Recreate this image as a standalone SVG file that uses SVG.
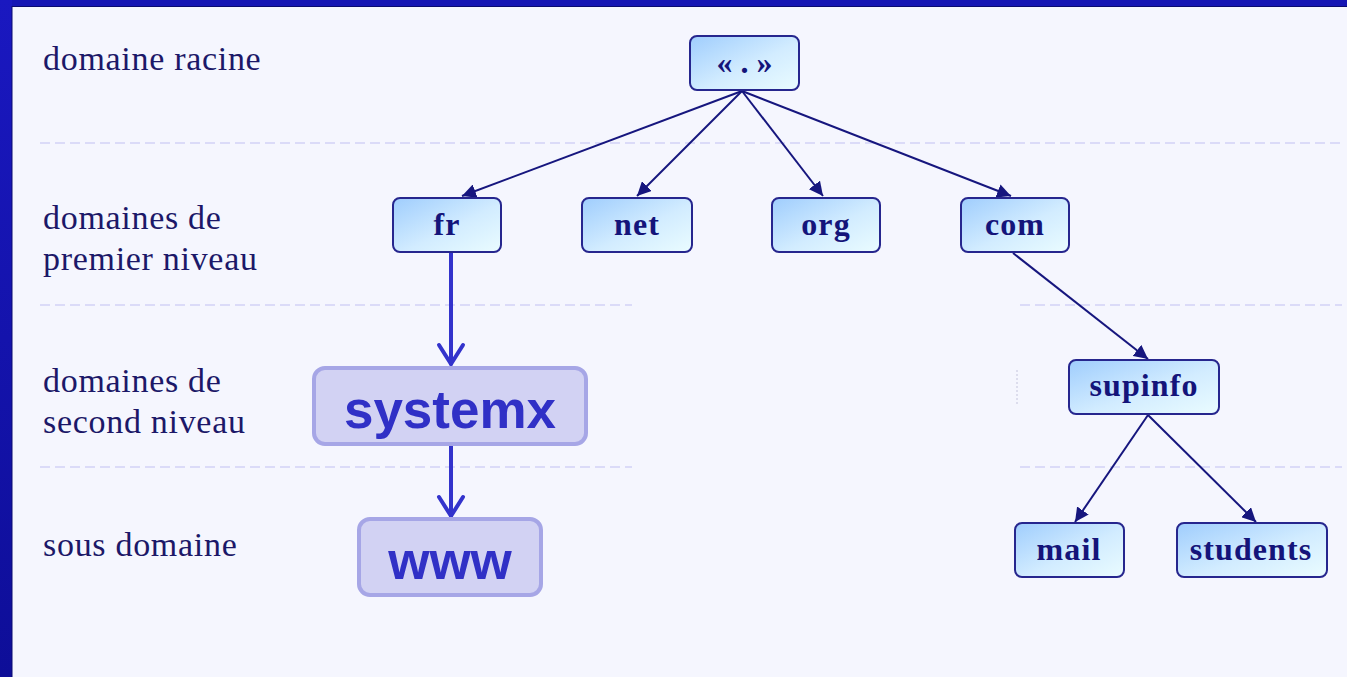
<svg xmlns="http://www.w3.org/2000/svg" width="1347" height="677" viewBox="0 0 1347 677">
<style>
.lbl{font-family:"Liberation Serif","Times New Roman",serif;font-size:34px;fill:#1c1868;letter-spacing:0.7px}
.ntx{font-family:"Liberation Serif","Times New Roman",serif;font-size:32px;font-weight:bold;fill:#14147a;text-anchor:middle;letter-spacing:1.1px}
.node{fill:url(#ng);stroke:#26268e;stroke-width:2}
.sep{stroke:#d2d2f6;stroke-width:1.5;stroke-dasharray:10 5;fill:none}
.conn{stroke:#16167e;stroke-width:2;fill:none}
.hl{fill:#d2d2f3;stroke:#a6a6e6;stroke-width:4}
.htx{font-family:"Liberation Sans",Arial,sans-serif;font-size:53px;font-weight:bold;fill:#3030c6;text-anchor:middle}
.blue{stroke:#3333cc;stroke-width:4;fill:none;stroke-linecap:round;stroke-linejoin:round}
</style>
<defs>
<linearGradient id="ng" x1="0" y1="0" x2="1" y2="1">
<stop offset="0" stop-color="#9fcdfd"/>
<stop offset="0.55" stop-color="#d2ecff"/>
<stop offset="1" stop-color="#eafcff"/>
</linearGradient>
<linearGradient id="bord" x1="0" y1="0" x2="0" y2="1">
<stop offset="0" stop-color="#1a18c0"/>
<stop offset="1" stop-color="#0e0e98"/>
</linearGradient>
<marker id="ah" markerUnits="userSpaceOnUse" markerWidth="16" markerHeight="14" refX="14" refY="7" orient="auto">
<path d="M0,0 L14,7 L0,14 Z" fill="#16167e"/>
</marker>
</defs>
<rect x="0" y="0" width="1347" height="677" fill="#f5f6fe"/>
<rect x="0" y="0" width="1347" height="6" fill="#1616b4"/>
<rect x="0" y="0" width="12" height="677" fill="url(#bord)"/>
<line x1="12" y1="6" x2="12" y2="677" stroke="#0a0a70" stroke-width="1"/>
<line x1="12" y1="6.5" x2="1347" y2="6.5" stroke="#0a0a70" stroke-width="1"/>

<g id="separators">
<line class="sep" x1="40" y1="143" x2="1342" y2="143"/>
<line class="sep" x1="40" y1="305" x2="632" y2="305"/>
<line class="sep" x1="1020" y1="305" x2="1342" y2="305"/>
<line class="sep" x1="40" y1="467" x2="632" y2="467"/>
<line class="sep" x1="1020" y1="467" x2="1342" y2="467"/>
<line x1="1017" y1="370" x2="1017" y2="405" stroke="#c4c4dc" stroke-width="1" stroke-dasharray="2 2"/>
</g>

<g id="labels">
<text class="lbl" x="43" y="70">domaine racine</text>
<text class="lbl" x="43" y="229">domaines de</text>
<text class="lbl" x="43" y="270">premier niveau</text>
<text class="lbl" x="43" y="392">domaines de</text>
<text class="lbl" x="43" y="433">second niveau</text>
<text class="lbl" x="43" y="556">sous domaine</text>
</g>

<g id="connectors">
<line class="conn" x1="742" y1="91" x2="462" y2="196" marker-end="url(#ah)"/>
<line class="conn" x1="742" y1="91" x2="637" y2="196" marker-end="url(#ah)"/>
<line class="conn" x1="742" y1="91" x2="823" y2="196" marker-end="url(#ah)"/>
<line class="conn" x1="742" y1="91" x2="1011" y2="196" marker-end="url(#ah)"/>
<line class="conn" x1="1013" y1="253" x2="1148" y2="359" marker-end="url(#ah)"/>
<line class="conn" x1="1148" y1="415" x2="1075" y2="522" marker-end="url(#ah)"/>
<line class="conn" x1="1148" y1="415" x2="1256" y2="522" marker-end="url(#ah)"/>
<line class="blue" x1="451" y1="248" x2="451" y2="364"/>
<polyline class="blue" points="439,345 451,364 463,345"/>
<line class="blue" x1="451" y1="446" x2="451" y2="516"/>
<polyline class="blue" points="439,497 451,516 463,497"/>
</g>

<g id="root">
<rect class="node" x="690" y="36" width="109" height="54" rx="7"/>
<text class="ntx" x="744.5" y="73" style="letter-spacing:0">« . »</text>
</g>
<g id="fr">
<rect class="node" x="393" y="198" width="108" height="54" rx="7"/>
<text class="ntx" x="447" y="235">fr</text>
</g>
<g id="net">
<rect class="node" x="582" y="198" width="110" height="54" rx="7"/>
<text class="ntx" x="637" y="235">net</text>
</g>
<g id="org">
<rect class="node" x="772" y="198" width="108" height="54" rx="7"/>
<text class="ntx" x="826" y="235">org</text>
</g>
<g id="com">
<rect class="node" x="961" y="198" width="108" height="54" rx="7"/>
<text class="ntx" x="1015" y="235">com</text>
</g>
<g id="supinfo">
<rect class="node" x="1069" y="360" width="150" height="54" rx="7"/>
<text class="ntx" x="1144" y="396">supinfo</text>
</g>
<g id="mail">
<rect class="node" x="1015" y="523" width="109" height="54" rx="7"/>
<text class="ntx" x="1069" y="560">mail</text>
</g>
<g id="students">
<rect class="node" x="1177" y="523" width="150" height="54" rx="7"/>
<text class="ntx" x="1251" y="560">students</text>
</g>
<g id="systemx">
<rect class="hl" x="314" y="368" width="272" height="76" rx="11"/>
<text class="htx" x="450" y="428">systemx</text>
</g>
<g id="www">
<rect class="hl" x="359" y="519" width="182" height="76" rx="11"/>
<text class="htx" x="450" y="579">www</text>
</g>
</svg>
